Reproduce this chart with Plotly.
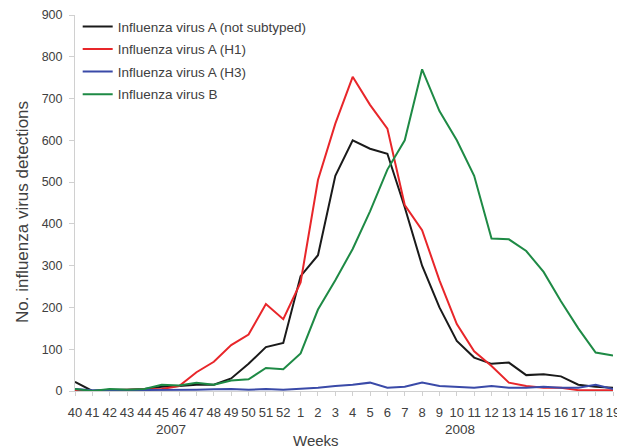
import plotly.graph_objects as go

weeks = ["40","41","42","43","44","45","46","47","48","49","50","51","52",
         "1","2","3","4","5","6","7","8","9","10","11","12","13","14","15","16","17","18","19"]

a_not_subtyped = [22,0,3,3,5,10,12,15,15,30,65,105,115,275,325,515,600,580,568,440,300,200,120,80,65,68,38,40,35,15,10,8]
a_h1 = [2,0,2,3,3,5,12,45,70,110,135,208,172,260,505,640,752,685,628,445,385,265,160,95,60,20,12,8,8,2,2,2]
a_h3 = [5,2,2,2,2,3,3,3,4,5,3,5,3,5,8,12,15,20,8,10,20,12,10,8,12,8,8,10,8,8,15,5]
b = [5,0,5,3,5,15,13,20,15,25,28,55,52,90,195,265,340,430,530,600,770,670,600,515,365,363,335,285,215,150,92,85]

series_names = ["Influenza virus A (not subtyped)", "Influenza virus A (H1)",
                "Influenza virus A (H3)", "Influenza virus B"]
colors = ["#1a1a1a", "#e8262a", "#3a4aa8", "#1e8a45"]
years = ["2007", "2008"]
y_title = "No. influenza virus detections"
x_title = "Weeks"

x = list(range(len(weeks)))
fig = go.Figure()
for i, (name, ys, c) in enumerate(zip(series_names, [a_not_subtyped, a_h1, a_h3, b], colors)):
    fig.add_trace(go.Scatter(x=x, y=ys, mode="lines", name=name, legendgroup=f"g{i}",
                             line=dict(color=c, width=2)))

font = "Liberation Sans, Arial, sans-serif"
# page body has an 8px default margin; margins below compensate for it
fig.update_layout(
    width=625, height=448,
    margin=dict(l=67, r=20, t=7, b=65, autoexpand=False),
    paper_bgcolor="white", plot_bgcolor="white",
    font=dict(family=font, size=12, color="#404040"),
    showlegend=True,
    legend=dict(x=0.005, y=1.01, xanchor="left", yanchor="top",
                bgcolor="rgba(0,0,0,0)", font=dict(size=13.5, color="#404040"),
                tracegroupgap=2, itemwidth=30),
    xaxis=dict(range=[0, 31], tickmode="array", tickvals=x, ticktext=weeks,
               showgrid=False, zeroline=False, showline=True, linecolor="#d0d0d0",
               ticks="outside", ticklen=4, tickcolor="#d0d0d0", automargin=False,
               ticklabelstandoff=5,
               tickfont=dict(size=13, color="#404040"), tickangle=0),
    yaxis=dict(range=[0, 900], dtick=100, showgrid=False, zeroline=False,
               showline=True, linecolor="#d0d0d0", ticks="outside", ticklen=5,
               tickcolor="#d0d0d0", automargin=False, ticklabelstandoff=4,
               tickfont=dict(size=12.5, color="#404040")),
)

annotations = [
    dict(x=5.53, text=years[0], yshift=-38, size=13.5),
    dict(x=22.2, text=years[1], yshift=-38, size=13.5),
    dict(x=13.9, text=x_title, yshift=-49, size=15),
]
for a in annotations:
    fig.add_annotation(x=a["x"], y=0, xref="x", yref="paper", text=a["text"],
                       showarrow=False, yshift=a["yshift"], yanchor="middle",
                       font=dict(size=a["size"], color="#404040"))

fig.add_annotation(x=0, y=0.476, xref="paper", yref="paper", text=y_title,
                   textangle=-90, showarrow=False, xshift=-53,
                   xanchor="center", yanchor="middle",
                   font=dict(size=17, color="#404040"))

fig.write_html("out.html")
